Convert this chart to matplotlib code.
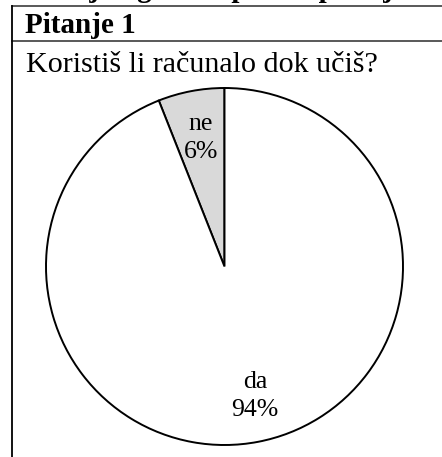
import matplotlib
matplotlib.use("Agg")
import matplotlib.pyplot as plt
from matplotlib.lines import Line2D

# data
categories = ["ne", "da"]
shares = [6, 94]
colors = ["#d9d9d9", "#ffffff"]

heading = "Svoj odgovor upiši uz pitanje"
question_no = "Pitanje 1"
question = "Koristiš li računalo dok učiš?"

W, H = 442, 457
plt.rcParams['font.family'] = ['Liberation Serif', 'DejaVu Serif']

fig = plt.figure(figsize=(W / 100, H / 100), dpi=100)


def fx(px):
    return px / W


def fy(py):
    # pixel measured from the top
    return 1 - py / H


# table frame
fig.add_artist(Line2D([fx(11.5), 1], [fy(5.5), fy(5.5)], transform=fig.transFigure,
                      color="#3c3c3c", lw=1.2))
fig.add_artist(Line2D([fx(11.5), 1], [fy(40.5), fy(40.5)], transform=fig.transFigure,
                      color="#3c3c3c", lw=1.2))
fig.add_artist(Line2D([fx(11.5), fx(11.5)], [fy(5.5), 0], transform=fig.transFigure,
                      color="black", lw=1.3))

# texts
fig.text(fx(44), fy(-3), heading, fontsize=21, fontweight='bold', va='baseline', ha='left')
fig.text(fx(25), fy(33), question_no, fontsize=21, fontweight='bold', va='baseline', ha='left')
fig.text(fx(26), fy(72), question, fontsize=21.6, va='baseline', ha='left')

# pie
cx, cy, r = 224.5, 266.5, 178.5
ax = fig.add_axes([fx(cx - r), fy(cy + r), (2 * r) / W, (2 * r) / H])

label_iter = iter(categories)


def fmt(pct):
    return f"{next(label_iter)}\n{pct:.0f}%"


wedges, texts, autotexts = ax.pie(shares, colors=colors, startangle=90, counterclock=True,
                                  autopct=fmt, pctdistance=0.74,
                                  wedgeprops=dict(edgecolor="black", linewidth=1.4),
                                  textprops=dict(fontsize=18.5, multialignment='center',
                                                 linespacing=1.3))
# nudge labels to where the original puts them
label_px = [(201, 138), (255, 396)]
for t, (px, py) in zip(autotexts, label_px):
    t.set_position(((px - cx) / r, (cy - py) / r))

ax.set_xlim(-1, 1)
ax.set_ylim(-1, 1)
ax.set_aspect('equal')
ax.axis('off')

fig.savefig("out.png", dpi=100)
